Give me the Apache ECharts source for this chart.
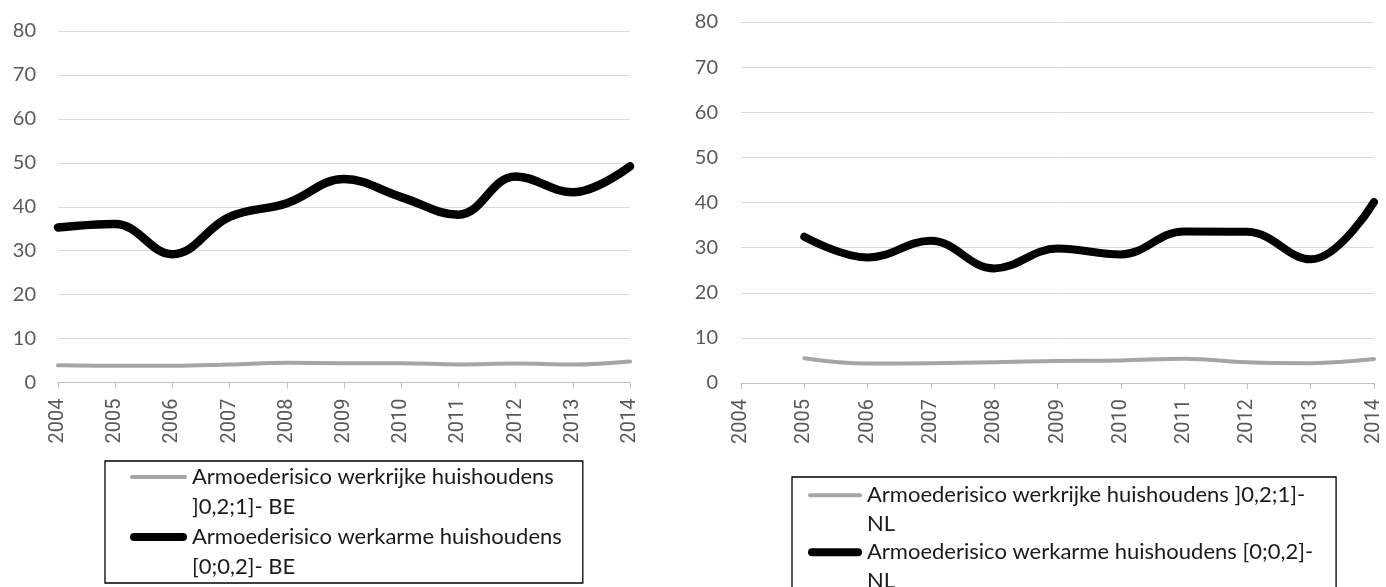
<!DOCTYPE html>
<html>
<head>
<meta charset="utf-8">
<script src="https://cdn.jsdelivr.net/npm/echarts@6/dist/echarts.min.js"></script>
<style>
  html, body { margin: 0; padding: 0; background: #fff; }
  #chart { width: 1386px; height: 587px; }
</style>
</head>
<body>
<div id="chart"></div>
<script>
// jaren op de x-as (beide grafieken)
const years = ['2004', '2005', '2006', '2007', '2008', '2009', '2010', '2011', '2012', '2013', '2014'];
const yTicks = [0, 10, 20, 30, 40, 50, 60, 70, 80];

// België
const beWerkrijk = [3.9, 3.8, 3.8, 4.1, 4.5, 4.4, 4.4, 4.1, 4.3, 4.1, 4.8];
const beWerkarm = [35.3, 36.1, 29.2, 37.7, 40.8, 46.3, 42.2, 38.2, 46.9, 43.3, 49.2];

// Nederland (geen cijfer voor 2004)
const nlWerkrijk = [null, 5.5, 4.3, 4.4, 4.6, 4.9, 5.0, 5.4, 4.6, 4.4, 5.3];
const nlWerkarm = [null, 32.4, 27.8, 31.5, 25.4, 29.8, 28.5, 33.6, 33.5, 27.4, 40.1];

const names = {
  beRijk: 'Armoederisico werkrijke huishoudens ]0,2;1]- BE',
  beArm: 'Armoederisico werkarme huishoudens [0;0,2]- BE',
  nlRijk: 'Armoederisico werkrijke huishoudens ]0,2;1]- NL',
  nlArm: 'Armoederisico werkarme huishoudens [0;0,2]- NL'
};

const GREY = '#a5a5a5';
const BLACK = '#000000';

// legend-icoon: balkje bovenaan, zodat het bij de eerste tekstregel staat
function barIcon(w, h, cy, t) {
  const r = t / 2;
  return 'path://M0,0L0,0M' + r + ',' + (cy - r) + 'H' + (w - r) +
    'A' + r + ',' + r + ',0,0,1,' + (w - r) + ',' + (cy + r) +
    'H' + r + 'A' + r + ',' + r + ',0,0,1,' + r + ',' + (cy - r) + 'Z' +
    'M' + w + ',' + h + 'L' + w + ',' + h;
}

function xAxis(gridIndex) {
  return {
    type: 'category',
    gridIndex: gridIndex,
    data: years,
    boundaryGap: false,
    axisLine: { lineStyle: { color: '#bfbfbf', width: 1 } },
    axisTick: { show: true, length: 6, lineStyle: { color: '#bfbfbf' } },
    axisLabel: { rotate: 90, margin: 16, color: '#595959', fontSize: 20, fontFamily: 'Roboto', interval: 0 },
    splitLine: { show: false }
  };
}

function yAxis(gridIndex, margin) {
  return {
    type: 'value',
    gridIndex: gridIndex,
    min: yTicks[0],
    max: yTicks[yTicks.length - 1],
    interval: 10,
    axisLine: { show: false },
    axisTick: { show: false },
    axisLabel: { margin: margin, color: '#595959', fontSize: 20, fontFamily: 'Lato' },
    splitLine: { lineStyle: { color: '#d9d9d9', width: 1 } }
  };
}

function line(name, data, idx, color, width) {
  return {
    name: name,
    type: 'line',
    xAxisIndex: idx,
    yAxisIndex: idx,
    data: data,
    smooth: 0.4,
    showSymbol: false,
    symbol: 'none',
    color: color,
    lineStyle: { color: color, width: width, cap: 'round', join: 'round' },
    emphasis: { disabled: true }
  };
}

const legendText = { color: '#1a1a1a', fontSize: 22, fontFamily: 'Lato' };

const option = {
  animation: false,
  backgroundColor: '#ffffff',
  grid: [
    { left: 58, top: 31, width: 572, height: 351.5 },
    { left: 741, top: 22, width: 633, height: 361 }
  ],
  xAxis: [xAxis(0), xAxis(1)],
  yAxis: [yAxis(0, 22), yAxis(1, 23)],
  legend: [
    {
      orient: 'vertical',
      left: 105,
      top: 461,
      height: 140,
      padding: [1, 21, 1, 25],
      borderColor: '#000',
      borderWidth: 1.3,
      itemGap: 0,
      itemWidth: 57,
      itemHeight: 60,
      itemStyle: { borderWidth: 0 },
      textStyle: Object.assign({ lineHeight: 30 }, legendText),
      formatter: n => n.replace(' ]0', '\n]0').replace(' [0', '\n[0'),
      data: [
        { name: names.beRijk, icon: barIcon(57, 60, 15, 4) },
        { name: names.beArm, icon: barIcon(57, 60, 15, 8) }
      ]
    },
    {
      orient: 'vertical',
      left: 792,
      top: 477,
      height: 140,
      padding: [4, 23, 4, 16],
      borderColor: '#000',
      borderWidth: 1.3,
      itemGap: 0,
      itemWidth: 54,
      itemHeight: 57,
      itemStyle: { borderWidth: 0 },
      textStyle: Object.assign({ lineHeight: 28.5 }, legendText),
      formatter: n => n.replace('- NL', '-\nNL'),
      data: [
        { name: names.nlRijk, icon: barIcon(54, 57, 14.25, 4) },
        { name: names.nlArm, icon: barIcon(54, 57, 14.25, 8) }
      ]
    }
  ],
  series: [
    line(names.beRijk, beWerkrijk, 0, GREY, 4),
    line(names.beArm, beWerkarm, 0, BLACK, 8.5),
    line(names.nlRijk, nlWerkrijk, 1, GREY, 4),
    line(names.nlArm, nlWerkarm, 1, BLACK, 8)
  ]
};

const myChart = echarts.init(document.getElementById('chart'));
myChart.setOption(option);
window.addEventListener('resize', () => {
  myChart.resize();
});
</script>
</body>
</html>
